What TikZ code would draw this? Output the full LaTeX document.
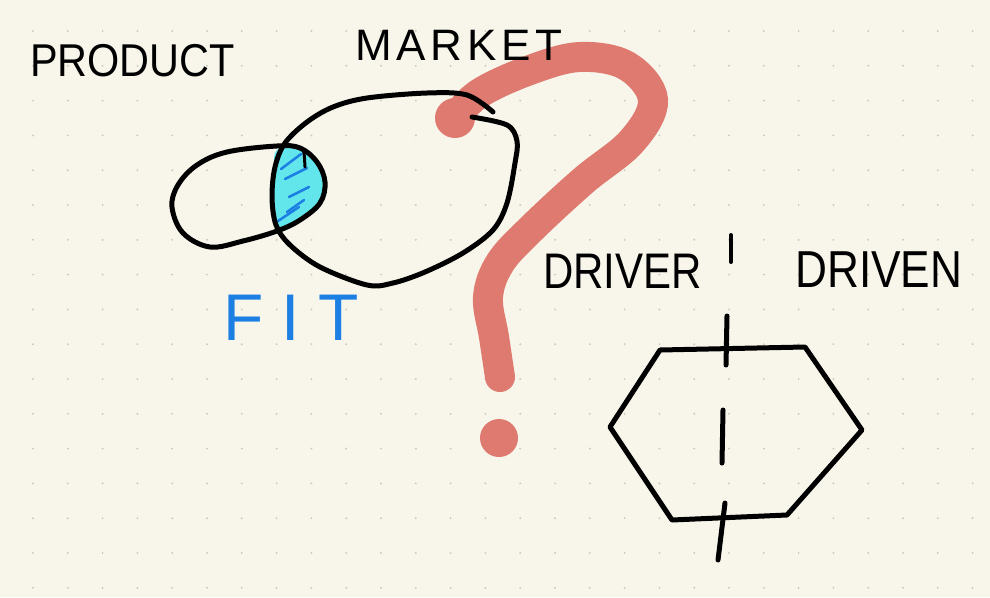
\documentclass[tikz,border=0pt]{standalone}
\usepackage{fontspec}
\setmainfont{Liberation Sans}
\definecolor{paper}{HTML}{F8F6EB}
\definecolor{dotgray}{HTML}{CFCBBF}
\definecolor{askred}{HTML}{DF7A70}
\definecolor{fitblue}{HTML}{1C7FE3}
\definecolor{fitcyan}{HTML}{62E6EC}
\newcommand{\narrow}[2]{\scalebox{#1}[1]{#2}}
\tikzset{
  handword/.style={inner sep=0pt, anchor=west},
  inkline/.style={black, line width=5pt, line cap=round, line join=round},
  hatch/.style={fitblue, line width=2.5pt, line cap=round},
}

\begin{document}
\begin{tikzpicture}[x=1pt, y=-1pt]
  % Paper and dot grid
  \fill[paper] (0,0) rectangle (990,597);
  \useasboundingbox (0,0) rectangle (990,597);
  \foreach \i in {0,...,27}
    \foreach \j in {0,...,16}
      \fill[dotgray] (33+34.8*\i, 31+34.8*\j) circle (1.1);

  % Question mark
  \draw[askred, line width=30pt, line cap=round] plot[smooth, tension=0.6] coordinates
    {(455,118) (480,93) (530,70) (580,57) (627,66) (653,100) (632,141) (583,181)
     (530,230) (500,263) (488,297) (494,337) (500,377)};
  \fill[askred] (455,118) circle (20);
  \fill[askred] (499,438) circle (19);

  % Fit region
  \fill[fitcyan] plot[smooth cycle, tension=0.7] coordinates
    {(277,150) (296,147) (317,162) (324,182) (320,203) (300,220) (279,230) (273,197) (274,168)};
  \draw[hatch] (281,169) -- (301,154);
  \draw[hatch] (285,179) -- (307,168);
  \draw[hatch] (289,197) -- (309,187);
  \draw[hatch] (287,212) -- (304,200);
  \draw[hatch] (278,221) -- (299,207);

  % Product
  \draw[inkline] plot[smooth cycle, tension=0.6] coordinates
    {(325,182) (317,162) (300,148) (277,146) (227,152) (197,165) (178,185) (172,207)
     (183,233) (210,247) (243,241) (277,231) (300,220) (320,203)};

  % Market
  \draw[inkline] plot[smooth, tension=0.55] coordinates
    {(472,117) (507,125) (517,141) (515,163) (507,203) (493,230) (463,253) (425,272)
     (393,283) (367,285) (320,267) (290,245) (276,225) (272,197) (275,167) (285,143)
     (307,122) (333,107) (367,98) (427,93) (467,95) (493,112)};
  \draw[inkline, line width=3pt] (297,147) .. controls (304,148) .. (305,167);

  % Labels
  \node[handword, font=\fontsize{46}{46}\selectfont] (product) at (30,61) {\narrow{0.9}{PRODUCT}};
  \node[handword, font=\fontsize{44}{44}\selectfont\addfontfeature{LetterSpace=11}] (market) at (355,45) {MARKET};
  \node[handword, fitblue, font=\fontsize{66}{66}\selectfont\addfontfeature{LetterSpace=28}] (fit) at (223,318) {FIT};
  \node[handword, font=\fontsize{50}{50}\selectfont] (driver) at (543,271) {\narrow{0.84}{DRIVER}};
  \node[handword, font=\fontsize{52}{52}\selectfont] (driven) at (795,270) {\narrow{0.85}{DRIVEN}};
  \draw[inkline, line width=4pt] (731,235) -- (731,262);

  % Hexagon
  \draw[inkline] (660,350) -- (805,347) -- (862,430) -- (787,515) -- (672,520) -- (610,427) -- cycle;
  \draw[inkline] (727,316) -- (726,365);
  \draw[inkline] (723,410) -- (722,463);
  \draw[inkline] (725,503) -- (718,560);
\end{tikzpicture}
\end{document}
